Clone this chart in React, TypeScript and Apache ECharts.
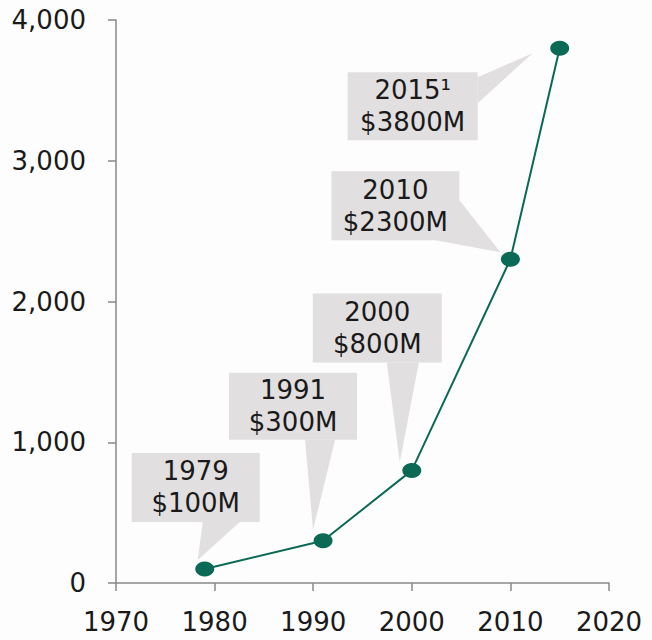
import React, { useEffect, useRef } from "react";
import * as echarts from "echarts";

const years = [1979, 1991, 2000, 2010, 2015];
const values = [100, 300, 800, 2300, 3800];
const calloutLines = [
  ["1979", "$100M"],
  ["1991", "$300M"],
  ["2000", "$800M"],
  ["2010", "$2300M"],
  ["2015\u00B9", "$3800M"],
];
const xTicks = [1970, 1980, 1990, 2000, 2010, 2020];
const yTicks = [0, 1000, 2000, 3000, 4000];

// callout layout relative to its data point (pixels)
const calloutLayout = [
  { left: -73, top: -116, w: 128, h: 69, pointer: [[-2, -47], [35, -47], [-7, -9]] },
  { left: -94, top: -168, w: 128, h: 67, pointer: [[-18, -101], [12, -101], [-10, -11]] },
  { left: -99, top: -177, w: 129, h: 69, pointer: [[-25, -108], [7, -108], [-12, -8]] },
  { left: -179, top: -88, w: 128, h: 69, pointer: [[-51, -59], [-75, -19], [-10, -7]] },
  { left: -212, top: 24, w: 130, h: 68, pointer: [[-82, 29], [-82, 55], [-27, 5]] },
];

const FONT = "'DejaVu Sans', 'Liberation Sans', Arial, sans-serif";
const TEAL = "#0b6a55";

export default function App() {
  const ref = useRef<HTMLDivElement>(null);
  useEffect(() => {
    if (!ref.current) return;
    const chart = echarts.init(ref.current, undefined, { renderer: "svg" });
    const axisLine = { lineStyle: { color: "#888", width: 1.5 } };
    chart.setOption({
      animation: false,
      backgroundColor: "#fdfdfd",
      textStyle: { fontFamily: FONT },
      grid: { left: 116, right: 43, top: 20, bottom: 57, containLabel: false },
      xAxis: {
        type: "value",
        min: xTicks[0],
        max: xTicks[xTicks.length - 1],
        interval: 10,
        axisLine: { ...axisLine, onZero: false },
        axisTick: { show: true, length: 8, lineStyle: { color: "#888", width: 1.5 } },
        splitLine: { show: false },
        axisLabel: {
          fontSize: 26,
          color: "#1a1a1a",
          margin: 26,
          fontFamily: FONT,
          formatter: (v: number) => String(v),
        },
      },
      yAxis: {
        type: "value",
        min: yTicks[0],
        max: yTicks[yTicks.length - 1],
        interval: 1000,
        axisLine: { show: true, ...axisLine },
        axisTick: { show: true, length: 8, lineStyle: { color: "#888", width: 1.5 } },
        splitLine: { show: false },
        axisLabel: {
          fontSize: 26,
          color: "#1a1a1a",
          margin: 30,
          fontFamily: FONT,
          formatter: (v: number) => v.toLocaleString("en-US"),
        },
      },
      series: [
        {
          type: "line",
          data: years.map((y, i) => [y, values[i]]),
          z: 5,
          lineStyle: { color: TEAL, width: 2 },
          itemStyle: { color: TEAL },
          symbol: "circle",
          symbolSize: [19, 15],
          showSymbol: true,
        },
      ],
    });

    const graphics: any[] = [];
    years.forEach((y, i) => {
      const [px, py] = chart.convertToPixel({ gridIndex: 0 }, [y, values[i]]) as number[];
      const L = calloutLayout[i];
      graphics.push({
        type: "polygon",
        z: 1,
        shape: { points: L.pointer.map(([dx, dy]) => [px + dx, py + dy]) },
        style: { fill: "#e1dfdf" },
      });
      graphics.push({
        type: "rect",
        z: 1,
        shape: { x: px + L.left, y: py + L.top, width: L.w, height: L.h },
        style: { fill: "#e1dfdf" },
      });
      graphics.push({
        type: "text",
        z: 2,
        x: px + L.left + L.w / 2,
        y: py + L.top + L.h / 2,
        style: {
          text: calloutLines[i].join("\n"),
          fontSize: 26,
          lineHeight: 32,
          fontFamily: FONT,
          fill: "#1a1a1a",
          align: "center",
          verticalAlign: "middle",
        },
      });
    });
    chart.setOption({ graphic: graphics });

    return () => chart.dispose();
  }, []);
  return <div ref={ref} style={{ width: 652, height: 640, position: "absolute", left: 0, top: 0 }} />;
}
